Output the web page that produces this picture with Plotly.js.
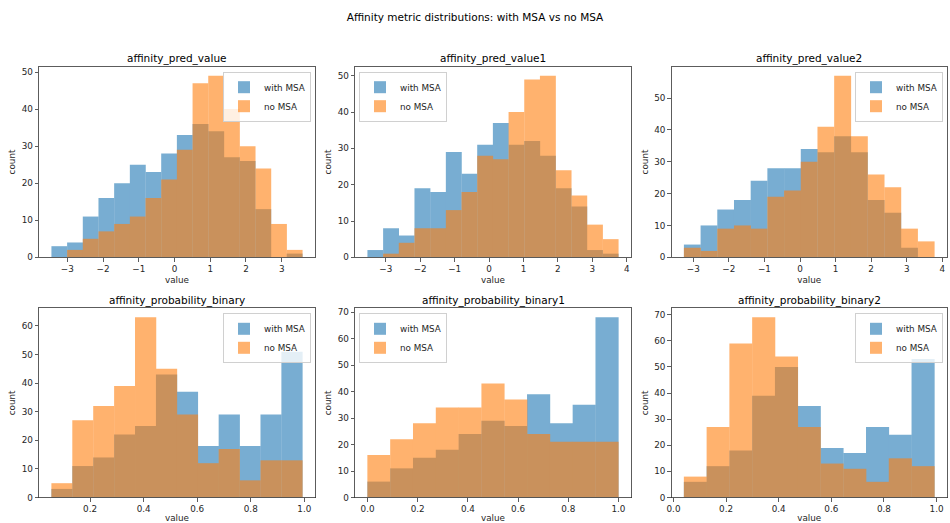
<!DOCTYPE html>
<html>
<head>
<meta charset="utf-8">
<script src="https://cdn.plot.ly/plotly-3.0.1.min.js"></script>
<style>html,body{margin:0;padding:0;background:#fff;}#chart{width:950px;height:523px;}</style>
</head>
<body>
<div id="chart"></div>
<script>
// ---- data ----
const panelTitles = ["affinity_pred_value", "affinity_pred_value1", "affinity_pred_value2",
                     "affinity_probability_binary", "affinity_probability_binary1", "affinity_probability_binary2"];
const seriesNames = ["with MSA", "no MSA"];
// histogram bin range (low edge, high edge) per panel
const binLo = [-3.44, -3.53, -3.26, 0.056, 0.0, 0.040];
const binHi = [3.58, 3.76, 3.78, 0.993, 1.0, 0.992];
// counts per bin
const withMSA1 = [3, 4, 11, 16, 20, 25, 23, 28, 33, 36, 34, 27, 26, 13, 0, 1];
const noMSA1   = [0, 2, 5, 7, 9, 11, 16, 21, 29, 47, 49, 40, 30, 24, 9, 2];
const withMSA2 = [2, 8, 6, 19, 18, 29, 23, 31, 37, 31, 32, 28, 19, 14, 2, 1];
const noMSA2   = [0, 1, 4, 8, 8, 13, 18, 28, 27, 40, 49, 50, 24, 17, 9, 5];
const withMSA3 = [4, 10, 15, 18, 24, 28, 28, 34, 33, 38, 33, 18, 14, 3, 0];
const noMSA3   = [3, 2, 9, 10, 9, 19, 21, 30, 41, 57, 38, 26, 22, 9, 5];
const withMSA4 = [3, 11, 14, 22, 25, 43, 37, 18, 29, 18, 29, 51];
const noMSA4   = [5, 27, 32, 39, 63, 45, 29, 12, 17, 6, 13, 13];
const withMSA5 = [6, 11, 15, 18, 24, 29, 27, 39, 28, 35, 68];
const noMSA5   = [16, 22, 28, 34, 34, 43, 37, 24, 21, 21, 21];
const withMSA6 = [6, 12, 18, 39, 50, 35, 19, 17, 27, 24, 53];
const noMSA6   = [8, 27, 59, 69, 54, 27, 13, 11, 6, 15, 12];

const withMSA = [withMSA1, withMSA2, withMSA3, withMSA4, withMSA5, withMSA6];
const noMSA = [noMSA1, noMSA2, noMSA3, noMSA4, noMSA5, noMSA6];

// ---- layout geometry ----
const W = 950, H = 523;
const colPx = [[39, 315], [355, 631], [671.5, 947]];
const rowPx = [[66.7, 257.3], [308.3, 497.5]];
const legendLeft = [false, true, false, false, true, false];
const colors = ["#1f77b4", "#ff7f0e"];
const FONT = "DejaVu Sans, Liberation Sans, sans-serif";
const tickFont = {family: FONT, size: 8.8, color: "#262626"};

const traces = [];
const layout = {
  width: W, height: H,
  margin: {l: 0, r: 0, t: 0, b: 0},
  paper_bgcolor: "#fff", plot_bgcolor: "#fff",
  barmode: "overlay",
  showlegend: true,
  font: {family: FONT, color: "#262626"},
  title: {text: "Affinity metric distributions: with MSA vs no MSA",
          x: 0.5, xanchor: "center", y: 1 - 17 / H, yanchor: "middle",
          font: {family: FONT, size: 10.5, color: "#000"}},
  annotations: []
};

for (let p = 0; p < 6; p++) {
  const r = Math.floor(p / 3), c = p % 3;
  const n = withMSA[p].length;
  const dx = (binHi[p] - binLo[p]) / n;
  const centers = withMSA[p].map((_, i) => binLo[p] + dx * (i + 0.5));
  const sfx = p === 0 ? "" : String(p + 1);
  const xa = "x" + sfx, ya = "y" + sfx;
  const leg = "legend" + sfx;
  [withMSA[p], noMSA[p]].forEach((vals, s) => {
    traces.push({
      type: "bar", x: centers, y: vals, width: dx * 1.015,
      xaxis: xa, yaxis: ya, legend: leg,
      name: seriesNames[s], opacity: 0.6,
      marker: {color: colors[s], line: {width: 0}},
      hoverinfo: "x+y+name"
    });
  });
  const span = binHi[p] - binLo[p];
  const ymax = Math.max(...withMSA[p], ...noMSA[p]) * 1.05;
  const xd = [colPx[c][0] / W, colPx[c][1] / W];
  const yd = [1 - rowPx[r][1] / H, 1 - rowPx[r][0] / H];
  const isProb = r === 1;
  layout["xaxis" + sfx] = {
    domain: xd, anchor: ya,
    range: [binLo[p] - 0.05 * span, binHi[p] + 0.05 * span],
    dtick: isProb ? 0.2 : 1, tick0: 0, tickformat: isProb ? ".1f" : "d",
    ticks: "outside", ticklen: 3.5, tickwidth: 0.8, tickcolor: "#333",
    showline: true, linecolor: "#333", linewidth: 0.8, mirror: true,
    showgrid: false, zeroline: false, tickfont: tickFont,
    title: {text: "value", font: {family: FONT, size: 8.8, color: "#262626"}, standoff: 3}
  };
  layout["yaxis" + sfx] = {
    domain: yd, anchor: xa,
    range: [0, ymax], dtick: 10, tick0: 0,
    ticks: "outside", ticklen: 3.5, tickwidth: 0.8, tickcolor: "#333",
    showline: true, linecolor: "#333", linewidth: 0.8, mirror: true,
    showgrid: false, zeroline: false, tickfont: tickFont,
    title: {text: "count", font: {family: FONT, size: 8.8, color: "#262626"}, standoff: 4}
  };
  layout.annotations.push({
    text: panelTitles[p], xref: "paper", yref: "paper",
    x: (xd[0] + xd[1]) / 2, y: 1 - (rowPx[r][0] - 8) / H,
    xanchor: "center", yanchor: "middle", showarrow: false,
    font: {family: FONT, size: 10.5, color: "#000"}
  });
  const left = legendLeft[p];
  layout[leg] = {
    x: left ? (colPx[c][0] + 4) / W : (colPx[c][1] - 4) / W,
    y: 1 - (rowPx[r][0] + 5) / H,
    xanchor: left ? "left" : "right", yanchor: "top",
    xref: "paper", yref: "paper",
    bgcolor: "rgba(255,255,255,0.8)", bordercolor: "#d0d0d0", borderwidth: 1,
    font: {family: FONT, size: 8.8, color: "#262626"},
    itemwidth: 30, tracegroupgap: 0
  };
}

Plotly.newPlot("chart", traces, layout, {displayModeBar: false, staticPlot: true});
</script>
</body>
</html>
